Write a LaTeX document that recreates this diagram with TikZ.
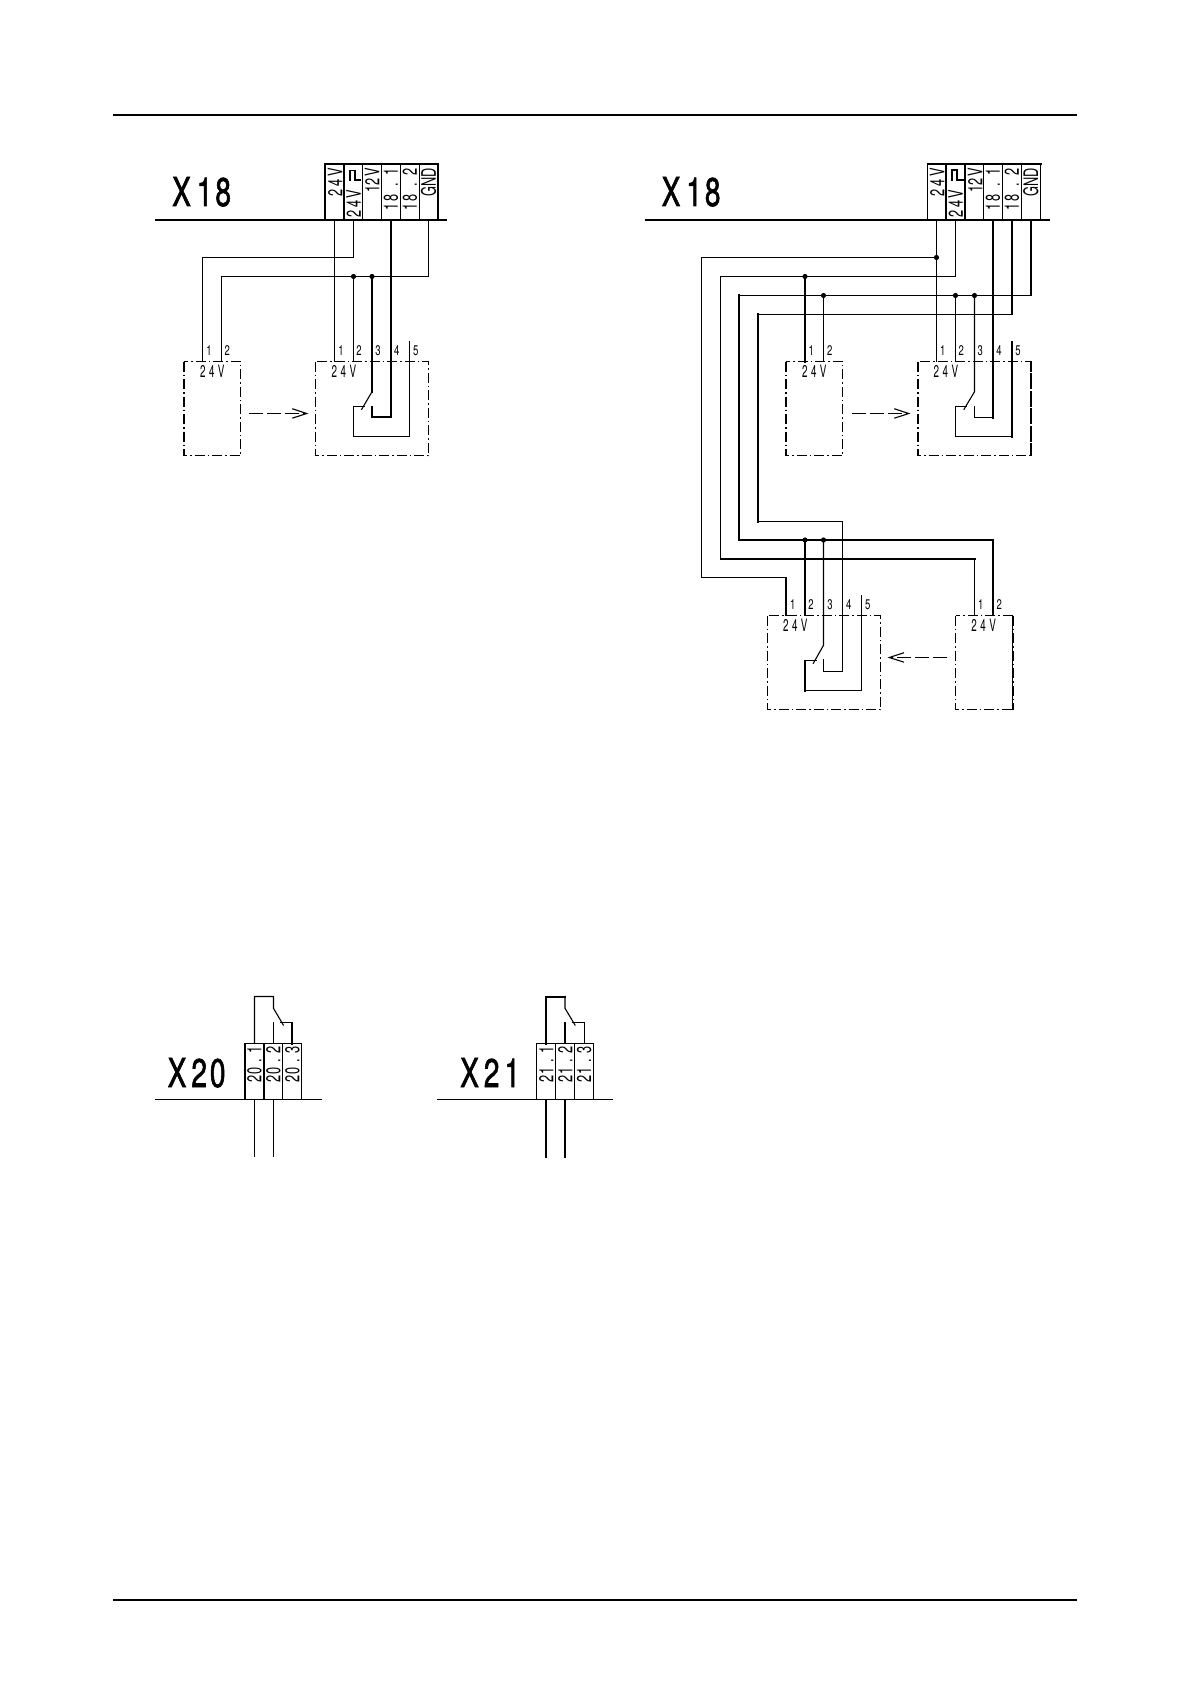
\documentclass[tikz,border=0pt]{standalone}
\usepackage{fontspec}
\setmainfont{TeX Gyre Heros}
\newfontfamily\cadBig[FakeStretch=0.7,FakeBold=1.4]{TeX Gyre Heros}
\newfontfamily\cadCell[FakeStretch=0.64]{TeX Gyre Heros}
\newfontfamily\cadPin[FakeStretch=0.68]{TeX Gyre Heros}
\newfontfamily\cadVolt[FakeStretch=0.58]{TeX Gyre Heros}
\newcommand\cadk[1]{\kern#1pt\relax}
\tikzset{
  thinw/.style={line width=1.1pt,line join=miter,line cap=rect},
  thickw/.style={line width=2pt,line join=miter,line cap=rect},
  rulew/.style={line width=2.1pt},
  encl/.style={line width=1.1pt,dash pattern=on 10pt off 3pt on 1.5pt off 3pt},
  enclthick/.style={line width=2pt,dash pattern=on 10pt off 3pt on 1.5pt off 3pt},
  shaft/.style={line width=1.1pt,dash pattern=on 14pt off 4pt},
  head/.style={line width=1.1pt},
  dotj/.style={circle,fill=black,draw=none,minimum size=5.2pt,inner sep=0pt},
  bigtxt/.style={anchor=base west,inner sep=0pt,font=\cadBig\fontsize{40}{40}\selectfont},
  celltxt/.style={anchor=east,rotate=90,inner sep=0pt,font=\cadCell\fontsize{20}{20}\selectfont},
  pintxt/.style={inner sep=0pt,font=\cadPin\fontsize{14}{14}\selectfont},
  volttxt/.style={inner sep=0pt,font=\cadVolt\fontsize{17}{17}\selectfont}
}
\begin{document}
\begin{tikzpicture}[x=1pt,y=-1pt]
\useasboundingbox (0,0) rectangle (1191,1685);
% page rules
\draw[rulew] (113,115) -- (1077,115);
\draw[rulew] (113,1600) -- (1077,1600);

% ---------- left X18 ----------
\node[bigtxt] (tA) at (172,206) {X\cadk{6}1\cadk{3}8};
\draw[rulew] (155.3,220) -- (447.3,220);
\draw[thickw] (325,220) |- (438,164) -- (438,220);
\draw[thickw] (344,164) -- (344,220);
\draw[thinw] (362.5,164) -- (362.5,220) (381.5,164) -- (381.5,220) (400.5,164) -- (400.5,220) (419.5,164) -- (419.5,220);
\node[celltxt] (a1) at (335,168) {2\cadk{3}4\cadk{3}V};
\node[celltxt] (a2) at (353.5,190) {2\cadk{2.5}4\cadk{2}V};
\draw[thinw] (350,180) -- (350,170.5) -- (355,170.5) -- (355,180) -- (360.5,180);
\node[celltxt] (a3) at (372,168) {12\cadk{1.5}V};
\node[celltxt] (a4) at (391,168) {1\cadk{1}8\cadk{8}.\cadk{8}1};
\node[celltxt] (a5) at (410,168) {1\cadk{1}8\cadk{8}.\cadk{8}2};
\node[celltxt] (a6) at (428.5,168) {GND};

\draw[encl] (183.5,361.5) rectangle (240.5,455.5);
\draw[enclthick] (183.5,361.5) -- (183.5,455.5);
\draw[encl] (315.5,361.5) rectangle (428.5,455.5);
\foreach \n/\x in {1/209,2/227.3}{\node[pintxt] (ap\n) at (\x,351) {\n};}
\node[pintxt] (aq1) at (341,351) {1};
\node[pintxt] (aq2) at (359,351) {2};
\node[pintxt] (aq3) at (378,351) {3};
\node[pintxt] (aq4) at (396.7,351) {4};
\node[pintxt] (aq5) at (415.7,351) {5};
\node[volttxt] (av1) at (212.3,371) {2\cadk{3.5}4\cadk{3.5}V};
\node[volttxt] (av2) at (344,371) {2\cadk{3.5}4\cadk{3.5}V};

\node[dotj] (aj1) at (353.5,276.5) {};
\node[dotj] (aj2) at (372,276.5) {};
\draw[thinw] (334.5,220) -- (334.5,361.5);
\draw[thinw] (353.5,220) -- (353.5,257.5) -| (202.5,361.5);
\draw[thinw] (428.5,220) -- (428.5,276.5) -| (221.5,361.5);
\draw[thinw] (aj1.center) -- (353.5,361.5);
\draw[thickw] (aj2.center) -- (372,391.7);
\draw[thinw] (372,391.7) -- (361.7,409.3);
\draw[thinw] (364,406.5) -- (353.5,406.5) |- (409.5,436.5) -- (409.5,341.7);
\draw[thickw] (372,406.7) -- (372,417) -- (391,417) -- (391,220);
\draw[shaft] (249,413.5) -- (304,413.5);
\draw[head] (292.3,408.7) -- (306.7,413.5) -- (292.3,418.2);

% ---------- right X18 ----------
\node[bigtxt] (tB) at (661.5,206) {X\cadk{6}1\cadk{3}8};
\draw[rulew] (644.7,220) -- (1050,220);
\draw[thinw] (927.5,164) -- (927.5,220);
\draw[thickw] (927.5,164) -- (1040.5,164);
\draw[thickw] (946,164) -- (946,220) (965,164) -- (965,220);
\draw[thinw] (983.5,164) -- (983.5,220) (1002.5,164) -- (1002.5,220) (1021.5,164) -- (1021.5,220) (1040.5,164) -- (1040.5,220);
\node[celltxt] (b1) at (937,168) {2\cadk{3}4\cadk{3}V};
\node[celltxt] (b2) at (955.5,190) {2\cadk{2.5}4\cadk{2}V};
\draw[thickw] (952,180) -- (952,170.5) -- (957,170.5) -- (957,180) -- (962.5,180);
\node[celltxt] (b3) at (975,168) {12\cadk{1.5}V};
\node[celltxt] (b4) at (993,168) {1\cadk{1}8\cadk{8}.\cadk{8}1};
\node[celltxt] (b5) at (1012,168) {1\cadk{1}8\cadk{8}.\cadk{8}2};
\node[celltxt] (b6) at (1030.7,168) {GND};

\draw[encl] (785.5,361.5) rectangle (842.5,455.5);
\draw[enclthick] (785.5,361.5) -- (785.5,455.5);
\draw[encl] (917.5,361.5) rectangle (1031,455.5);
\draw[enclthick] (917.5,361.5) -- (917.5,455.5);
\draw[enclthick] (1031,361.5) -- (1031,455.5);
\node[pintxt] (bp1) at (811.3,351) {1};
\node[pintxt] (bp2) at (829.7,351) {2};
\node[pintxt] (bq1) at (942.7,351) {1};
\node[pintxt] (bq2) at (961.3,351) {2};
\node[pintxt] (bq3) at (980.3,351) {3};
\node[pintxt] (bq4) at (999,351) {4};
\node[pintxt] (bq5) at (1018,351) {5};
\node[volttxt] (bv1) at (814.3,371) {2\cadk{3.5}4\cadk{3.5}V};
\node[volttxt] (bv2) at (946,371) {2\cadk{3.5}4\cadk{3.5}V};

\node[dotj] (bj1) at (936.5,257.5) {};
\node[dotj] (bj2) at (805,276.5) {};
\node[dotj] (bj3) at (823.5,295.5) {};
\node[dotj] (bj4) at (955.5,295.5) {};
\node[dotj] (bj5) at (974.5,295.5) {};
\node[dotj] (bj6) at (805,540) {};
\node[dotj] (bj7) at (823.5,540) {};

% 24V
\draw[thinw] (936.5,220) -- (936.5,361.5);
\draw[thinw] (bj1.center) -| (701.5,577.5) -- (786,577.5);
\draw[thickw] (786,577.5) -- (786,615);
% 24V pulse
\draw[thinw] (955.5,220) -- (955.5,276.5) -| (720.5,559);
\draw[thickw] (720.5,559) -- (974.5,559);
\draw[thinw] (974.5,559) -- (974.5,615);
% GND
\draw[thickw] (1031,220) -- (1031,295.5);
\draw[thinw] (1031,295.5) -- (739,295.5);
\draw[thickw] (739,295.5) -- (739,540) -- (993,540) -- (993,615);
% 18.2
\draw[thickw] (1012,220) -- (1012,314.5);
\draw[thinw] (1012,314.5) -- (758,314.5);
\draw[thickw] (758,314.5) -- (758,521.5);
\draw[thinw] (758,521.5) -| (842.5,671.5) -| (823.5,660);
% upper-middle pins
\draw[thickw] (bj2.center) -- (805,361.5);
\draw[thinw] (bj3.center) -- (823.5,361.5);
\draw[thinw] (bj4.center) -- (955.5,361.5);
% upper-right internals
\draw[thinw] (bj5.center) -- (974.5,391.7) -- (964,409.3);
\draw[thinw] (966.7,406.5) -- (955.5,406.5) |- (1012,436.5);
\draw[thickw] (1012,436.5) -- (1012,341.7);
\draw[thinw] (974.5,406.5) -- (974.5,417.5) -- (993,417.5);
\draw[thickw] (993,417.5) -- (993,220);
\draw[shaft] (852,413.5) -- (906,413.5);
\draw[head] (894.3,408.7) -- (908.7,413.5) -- (894.3,418.2);

% lower boxes
\draw[encl] (767.5,615.5) rectangle (880.5,709.5);
\draw[encl] (955.5,615.5) rectangle (1012.5,709.5);
\draw[enclthick] (1012.5,615.5) -- (1012.5,709.5);
\node[pintxt] (cq1) at (792.7,605) {1};
\node[pintxt] (cq2) at (811,605) {2};
\node[pintxt] (cq3) at (830,605) {3};
\node[pintxt] (cq4) at (848.7,605) {4};
\node[pintxt] (cq5) at (867.7,605) {5};
\node[pintxt] (cp1) at (980.7,605) {1};
\node[pintxt] (cp2) at (999.3,605) {2};
\node[volttxt] (cv1) at (795.3,625) {2\cadk{3.5}4\cadk{3.5}V};
\node[volttxt] (cv2) at (983.7,625) {2\cadk{3.5}4\cadk{3.5}V};
\draw[thickw] (bj6.center) -- (805,615);
\draw[thinw] (bj7.center) -- (823.5,645.3) -- (813.3,663.3);
\draw[thinw] (816,660.5) -- (805,660.5);
\draw[thickw] (805,660.5) -- (805,690.5);
\draw[thinw] (805,690.5) -| (861.5,596);
\draw[shaft] (947.3,657.5) -- (892,657.5);
\draw[head] (904,652.7) -- (889.3,657.5) -- (904,662.2);

% ---------- X20 ----------
\node[bigtxt] (tC) at (167.5,1087) {X\cadk{5}2\cadk{3}0};
\draw[thinw] (155.5,1099.5) -- (321,1099.5);
\draw[thinw] (245,1043.5) rectangle (301.5,1099.5);
\draw[thickw] (245,1043.5) -- (245,1099) (264,1043.5) -- (264,1099);
\draw[thinw] (282.5,1043.5) -- (282.5,1099);
\node[celltxt] (c1) at (254.5,1046.5) {2\cadk{1}0\cadk{5}.\cadk{5}1};
\node[celltxt] (c2) at (273.5,1046.5) {2\cadk{1}0\cadk{5}.\cadk{5}2};
\node[celltxt] (c3) at (292.5,1046.5) {2\cadk{1}0\cadk{5}.\cadk{5}3};
\draw[thinw] (254.5,1156.7) -- (254.5,1099.5);
\draw[thinw] (273.5,1156.7) -- (273.5,1099.5);
\draw[thinw] (254.5,1043.5) |- (273.5,996.5) -- (273.5,1008.3) -- (283.3,1025);
\draw[thinw] (273.5,1043.5) -- (273.5,1022.5);
\draw[thinw] (280.7,1022.5) -- (292,1022.5);
\draw[thickw] (292,1022.5) -- (292,1043.5);

% ---------- X21 ----------
\node[bigtxt] (tD) at (460,1087) {X\cadk{5}2\cadk{5}1};
\draw[thinw] (437.5,1099.5) -- (612.7,1099.5);
\draw[thinw] (536.5,1043.5) rectangle (593.5,1099.5);
\draw[thinw] (555.5,1043.5) -- (555.5,1099) (574.5,1043.5) -- (574.5,1099);
\node[celltxt] (d1) at (546.2,1046.5) {2\cadk{1}1\cadk{5}.\cadk{5}1};
\node[celltxt] (d2) at (565.2,1046.5) {2\cadk{1}1\cadk{5}.\cadk{5}2};
\node[celltxt] (d3) at (584.2,1046.5) {2\cadk{1}1\cadk{5}.\cadk{5}3};
\draw[thickw] (546,1156.7) -- (546,1099.5);
\draw[thickw] (565,1156.7) -- (565,1099.5);
\draw[thickw] (546,1043.5) -- (546,996.5) -- (565,996.5);
\draw[thinw] (565,996.5) -- (565,1008.3) -- (575,1025);
\draw[thinw] (565,1043.5) -- (565,1022.5);
\draw[thinw] (572.4,1022.5) -- (584.5,1022.5) -- (584.5,1043.5);
\end{tikzpicture}
\end{document}
